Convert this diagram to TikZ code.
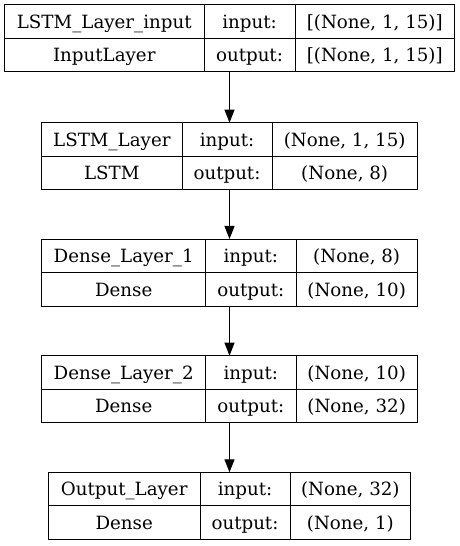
\documentclass[tikz,border=0pt]{standalone}
\usepackage{fontspec}
\setmainfont{DejaVu Serif}
\usetikzlibrary{arrows.meta}
\newcommand{\kgrid}[6]{%
  \pgfmathsetmacro\kw{#4-#2}%
  \pgfmathsetmacro\kcx{(#2+#4)/2}%
  \pgfmathsetmacro\kcy{#3+33.5}%
  \node[box, minimum width=\kw bp, minimum height=67bp] (#1) at (\kcx,\kcy) {};
  \draw[grid] (#5,#3) -- (#5,#3+67);
  \draw[grid] (#6,#3) -- (#6,#3+67);
  \draw[grid] (#2,#3+33.5) -- (#4,#3+33.5);
  \pgfmathsetmacro\ka{(#2+#5)/2}%
  \pgfmathsetmacro\kb{(#5+#6)/2}%
  \pgfmathsetmacro\kc{(#6+#4)/2}%
  \coordinate (#1-11) at (\ka,#3+23.5);
  \coordinate (#1-21) at (\ka,#3+57);
  \coordinate (#1-12) at (\kb,#3+23.5);
  \coordinate (#1-22) at (\kb,#3+57);
  \coordinate (#1-13) at (\kc,#3+23.5);
  \coordinate (#1-23) at (\kc,#3+57);
}
\begin{document}
\begin{tikzpicture}[x=1bp,y=-1bp,
  box/.style={draw, line width=1bp, inner sep=0pt, outer sep=0pt},
  grid/.style={draw, line width=1bp},
  lbl/.style={font=\fontsize{18.3}{21}\selectfont, inner sep=0pt, anchor=base},
  conn/.style={-{Triangle[length=13bp,width=10bp]}, line width=1bp}]
\useasboundingbox (0,0) rectangle (460,546);

\kgrid{b1}{4.5}{5}{454.5}{204}{295}
\node[lbl] (b1n) at (b1-11) {LSTM\_Layer\_input};
\node[lbl] (b1t) at (b1-21) {InputLayer};
\node[lbl] (b1i) at (b1-12) {input:};
\node[lbl] (b1o) at (b1-22) {output:};
\node[lbl] (b1iv) at (b1-13) {[(None, 1, 15)]};
\node[lbl] (b1ov) at (b1-23) {[(None, 1, 15)]};

\kgrid{b2}{41.7}{122.7}{417.3}{182}{272}
\node[lbl] (b2n) at (b2-11) {LSTM\_Layer};
\node[lbl] (b2t) at (b2-21) {LSTM};
\node[lbl] (b2i) at (b2-12) {input:};
\node[lbl] (b2o) at (b2-22) {output:};
\node[lbl] (b2iv) at (b2-13) {(None, 1, 15)};
\node[lbl] (b2ov) at (b2-23) {(None, 8)};

\kgrid{b3}{41.7}{239}{417.3}{205.7}{296}
\node[lbl] (b3n) at (b3-11) {Dense\_Layer\_1};
\node[lbl] (b3t) at (b3-21) {Dense};
\node[lbl] (b3i) at (b3-12) {input:};
\node[lbl] (b3o) at (b3-22) {output:};
\node[lbl] (b3iv) at (b3-13) {(None, 8)};
\node[lbl] (b3ov) at (b3-23) {(None, 10)};

\kgrid{b4}{41.7}{355.7}{417.3}{205.7}{296}
\node[lbl] (b4n) at (b4-11) {Dense\_Layer\_2};
\node[lbl] (b4t) at (b4-21) {Dense};
\node[lbl] (b4i) at (b4-12) {input:};
\node[lbl] (b4o) at (b4-22) {output:};
\node[lbl] (b4iv) at (b4-13) {(None, 10)};
\node[lbl] (b4ov) at (b4-23) {(None, 32)};

\kgrid{b5}{48.3}{472.3}{410.7}{200}{290}
\node[lbl] (b5n) at (b5-11) {Output\_Layer};
\node[lbl] (b5t) at (b5-21) {Dense};
\node[lbl] (b5i) at (b5-12) {input:};
\node[lbl] (b5o) at (b5-22) {output:};
\node[lbl] (b5iv) at (b5-13) {(None, 32)};
\node[lbl] (b5ov) at (b5-23) {(None, 1)};

\draw[conn] (b1.south) -- (b2.north);
\draw[conn] (b2.south) -- (b3.north);
\draw[conn] (b3.south) -- (b4.north);
\draw[conn] (b4.south) -- (b5.north);
\end{tikzpicture}
\end{document}
